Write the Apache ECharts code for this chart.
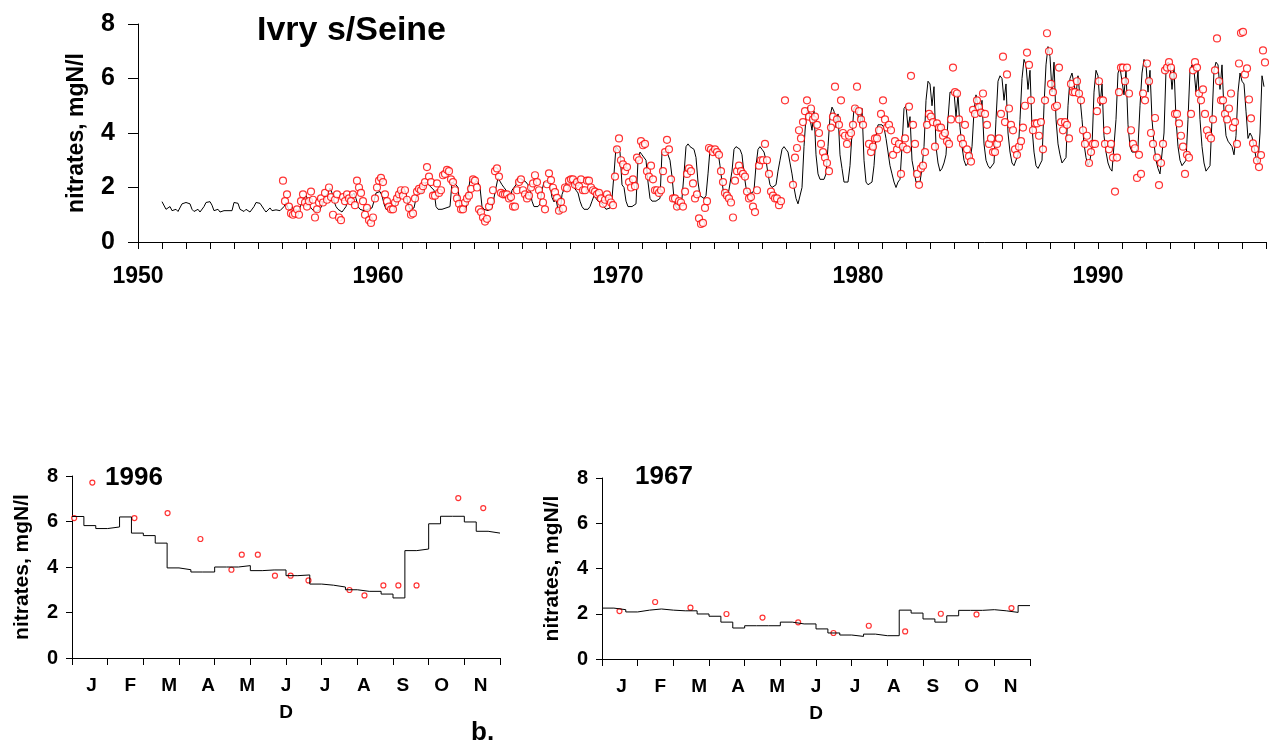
<!DOCTYPE html>
<html>
<head>
<meta charset="utf-8">
<script src="https://cdn.jsdelivr.net/npm/echarts@6/dist/echarts.min.js"></script>
<style>
  html, body { margin: 0; padding: 0; background: #fff; }
  #chart { width: 1269px; height: 744px; }
</style>
</head>
<body>
<div id="chart"></div>
<script>
// simulated nitrate, one value per month, Jan 1951 .. Dec 1996
const modelStartYear = 1951
const modelMonthly = [
  1.48,1.45,1.2,1.15,1.3,1.15,1.15,1.2,1.12,1.15,1.4,1.45,
  1.45,1.48,1.4,1.2,1.12,1.15,1.2,1.1,1.12,1.3,1.45,1.45,
  1.48,1.35,1.15,1.1,1.2,1.1,1.15,1.15,1.12,1.15,1.18,1.15,
  1.45,1.48,1.42,1.2,1.15,1.12,1.2,1.15,1.1,1.15,1.3,1.45,
  1.5,1.42,1.35,1.2,1.1,1.15,1.25,1.15,1.1,1.18,1.25,1.15,
  1.2,1.3,1.45,1.25,1.15,1.3,1.15,1.2,1.1,1.15,1.45,1.6,
  1.7,1.55,1.3,1.2,1.15,1.1,1.15,1.2,1.25,1.5,1.7,1.8,
  1.98,1.8,1.5,1.3,1.2,1.15,1.1,1.2,1.3,1.6,1.8,1.7,
  1.8,1.6,1.3,1.2,1.2,1.15,1.15,1.2,1.2,1.25,1.5,1.8,
  1.85,1.85,1.7,1.4,1.2,1.15,1.15,1.15,1.2,1.15,1.7,1.9,
  1.9,1.95,1.8,1.4,1.2,1.2,1.25,1.6,1.85,1.85,1.8,1.95,
  2.2,2.2,2.05,2.0,1.9,1.3,1.2,1.2,1.2,1.2,1.25,1.3,
  1.3,2.2,2.2,2.1,2.0,1.3,1.2,1.2,1.2,1.2,2.3,2.35,
  2.3,2.3,2.2,2.0,1.3,1.2,1.2,1.15,1.2,1.25,1.3,2.0,
  2.35,2.3,2.1,2.0,1.9,1.6,1.5,1.9,2.0,2.1,2.35,2.4,
  2.3,2.3,2.2,2.1,1.9,1.5,1.3,1.3,1.3,1.4,1.9,2.2,
  2.17,2.18,2.08,1.63,1.47,1.58,1.18,1.04,1.74,1.77,2.16,2.18,
  2.3,2.2,2.0,1.9,1.8,1.5,1.3,1.2,1.15,1.2,1.3,1.5,
  1.7,1.6,1.5,1.5,1.4,1.3,1.2,1.2,1.25,1.6,2.5,3.5,
  3.5,3.3,2.1,2.0,1.5,1.3,1.3,1.3,1.35,1.4,3.0,3.3,
  3.2,3.2,3.0,2.2,1.6,1.5,1.5,1.5,1.5,1.6,3.3,3.35,
  3.3,3.2,3.0,2.4,1.6,1.3,1.2,1.4,1.6,2.5,3.5,3.6,
  3.5,3.5,3.4,3.1,2.2,1.7,1.7,1.6,1.7,2.5,3.4,3.5,
  3.5,3.4,3.3,2.8,2.2,1.7,1.7,1.7,1.7,2.6,3.4,3.5,
  3.5,3.4,3.2,2.5,2.0,1.8,1.8,1.8,1.9,2.8,3.4,3.5,
  3.4,3.3,3.0,2.5,2.1,2.0,2.0,2.1,2.6,3.0,3.4,3.5,
  3.4,3.3,2.9,2.5,2.0,1.6,1.4,1.4,2.0,3.5,4.6,4.95,
  4.9,4.1,4.8,3.2,2.5,2.3,2.3,2.3,2.5,3.5,4.6,4.95,
  4.8,4.2,4.7,3.2,2.7,2.2,2.15,2.2,2.8,4.0,4.9,5.0,
  5.0,4.3,4.9,3.0,2.2,2.1,2.1,2.2,2.8,3.9,4.3,4.3,
  4.3,4.2,3.8,3.3,2.8,2.5,2.2,2.0,2.2,2.3,3.5,4.9,
  5.0,4.2,4.6,3.0,2.6,2.2,2.15,2.2,2.7,3.5,5.2,5.9,
  5.8,5.0,5.7,3.5,2.9,2.6,2.7,2.9,3.2,4.5,5.5,5.5,
  5.5,4.6,5.4,4.2,3.5,3.0,2.8,2.8,3.0,3.5,4.8,5.4,
  5.4,4.6,5.2,3.6,3.0,2.8,2.7,2.7,2.9,4.5,5.9,6.1,
  6.0,5.2,5.8,4.0,3.3,2.9,2.8,2.8,3.2,4.5,6.0,6.7,
  6.5,5.6,6.3,4.2,3.3,2.8,2.7,2.7,3.0,5.0,6.5,7.17,
  6.8,5.5,6.6,4.5,3.6,3.2,2.9,2.9,3.1,5.0,6.0,6.2,
  6.2,5.4,6.1,5.3,4.5,3.6,3.1,2.8,3.0,3.5,5.5,6.3,
  6.1,5.0,5.8,3.9,3.3,2.9,2.7,2.6,2.6,4.5,6.2,6.4,
  6.4,5.4,6.3,4.3,3.5,3.3,3.25,3.3,3.5,5.0,6.2,6.7,
  6.5,5.5,6.3,4.5,3.6,3.0,2.7,2.5,2.5,4.0,6.3,6.6,
  6.5,5.6,6.4,4.5,3.5,3.0,2.8,2.8,3.0,4.5,6.3,6.5,
  6.3,5.5,6.3,4.5,3.5,2.9,2.6,2.6,2.8,4.5,6.3,6.6,
  6.5,5.6,6.5,4.8,3.9,3.7,3.7,3.5,3.2,3.9,5.5,6.2,
  5.9,5.8,4.8,3.8,4.0,3.86,3.5,3.1,2.9,4.0,6.1,5.7
]

// measured nitrate, one slot per month (mid-month), Jan 1956 .. Dec 1996
const obsStartYear = 1956
const obsMonthly = [
  2.25,1.5,1.75,1.3,1.05,1.0,1.05,1.2,1.0,1.5,1.75,1.45,
  1.3,1.5,1.85,1.55,0.9,1.2,1.45,1.6,1.45,1.8,1.55,2.0,
  1.65,1.0,1.55,1.75,0.9,0.8,1.65,1.5,1.75,1.6,1.5,1.75,
  1.35,2.25,2.0,1.8,1.5,1.0,1.25,0.8,0.7,0.9,1.6,2.0,
  2.25,2.35,2.2,1.75,1.5,1.3,1.2,1.2,1.45,1.6,1.75,1.9,
  1.7,1.9,1.55,1.25,1.0,1.05,1.6,1.85,1.95,1.9,2.05,2.2,
  2.75,2.4,2.2,1.7,1.7,2.15,1.8,1.9,2.45,2.5,2.65,2.6,
  2.3,2.2,1.9,1.6,1.4,1.2,1.2,1.45,1.6,1.7,1.95,2.3,
  2.25,2.0,1.2,1.1,0.9,0.75,0.85,1.3,1.5,1.9,2.6,2.7,
  2.4,1.8,1.75,1.75,1.75,1.6,1.65,1.3,1.3,1.9,2.2,2.3,
  1.9,1.75,1.6,1.7,2.0,2.15,2.45,2.2,1.9,1.7,1.45,1.2,
  2.12,2.52,2.27,1.99,1.83,1.62,1.15,1.47,1.22,2.0,1.97,2.25,
  2.3,2.3,2.1,2.2,2.05,2.3,1.9,1.9,2.25,2.25,2.0,1.9,
  1.85,1.75,1.8,1.6,1.4,1.55,1.75,1.6,1.45,1.35,2.4,3.4,
  3.8,3.0,2.85,2.6,2.75,2.2,2.0,2.3,2.05,3.1,3.0,3.7,
  3.55,3.6,2.6,2.4,2.8,2.3,1.9,1.9,1.8,1.9,2.6,3.3,
  3.75,3.4,2.3,1.6,1.6,1.3,1.5,1.45,1.3,1.85,2.5,2.7,
  2.6,2.15,1.6,1.75,0.87,0.66,0.7,1.25,1.5,3.45,3.4,3.3,
  3.4,3.3,3.2,2.6,2.2,1.8,1.7,1.6,1.45,0.9,2.25,2.6,
  2.8,2.6,2.5,2.4,1.85,1.6,1.65,1.3,1.1,1.9,2.8,3.0,
  3.0,3.6,3.0,2.5,1.85,1.7,1.6,1.6,1.35,1.5,null,5.2,
  null,null,null,2.1,3.1,3.45,4.1,3.8,4.4,4.8,5.2,4.6,
  4.9,4.5,4.6,4.3,4.0,3.6,3.3,3.1,2.9,2.6,4.2,4.6,
  5.7,4.5,4.3,5.2,4.0,3.9,3.6,3.9,4.0,4.3,4.9,5.7,
  4.8,4.5,4.3,null,null,3.6,3.3,3.5,3.8,3.8,4.1,4.7,
  5.2,4.5,4.2,4.3,4.1,3.2,3.7,3.4,3.6,2.5,3.5,3.8,
  3.4,4.97,6.1,4.3,3.6,2.5,2.1,2.7,2.8,3.3,4.3,4.7,
  4.6,4.4,3.5,4.35,4.2,4.2,3.9,4.0,3.7,3.6,4.5,6.4,
  5.5,5.45,4.5,3.8,3.6,4.3,3.4,3.15,2.95,4.85,4.7,5.2,
  4.95,4.75,5.45,4.7,4.3,3.6,3.8,3.3,3.3,3.6,3.8,4.7,
  6.8,4.4,6.15,4.9,4.3,4.1,3.4,3.2,3.5,3.7,4.2,5.0,
  6.95,6.5,5.2,4.1,4.35,4.35,3.9,4.4,3.4,5.2,7.66,7.0,
  5.8,5.5,4.95,5.0,6.4,4.4,4.1,4.4,4.3,3.8,5.8,5.5,
  5.5,5.9,5.45,5.2,4.1,3.6,3.9,2.9,3.3,3.6,3.6,4.8,
  5.9,5.2,5.2,3.6,4.1,3.4,3.6,3.1,1.85,3.1,5.5,6.4,
  6.4,5.9,6.4,5.45,4.1,3.6,3.44,2.35,3.2,2.5,5.45,5.2,
  6.55,5.9,4.0,3.6,4.55,3.1,2.09,2.9,3.6,6.3,6.4,6.6,
  6.4,6.1,4.7,4.7,4.35,3.9,3.5,2.5,3.2,3.1,4.7,6.3,
  6.6,6.4,5.45,5.2,5.6,4.7,4.1,3.9,3.8,4.5,6.3,7.47,
  5.9,5.2,5.2,4.7,4.5,4.9,5.45,4.2,4.4,3.6,6.55,7.67,
  7.71,6.15,6.37,5.23,4.54,3.62,3.41,2.99,2.75,3.19,7.03,6.59
]

// month letters under the small panels
const panelMonths = ['J', 'F', 'M', 'A', 'M', 'J', 'J', 'A', 'S', 'O', 'N']

// 1996, ten-day model values (36 per year)
const model1996 = [
  6.22,5.82,5.69, 5.76,6.2,5.49, 5.38,5.05,3.96, 3.88,3.78,3.78,
  4.0,4.0,4.06, 3.84,3.87,3.87, 3.62,3.65,3.25, 3.2,3.12,3.0,
  2.93,2.93,2.81, 2.64,4.72,4.79, 5.9,6.23,6.23, 5.98,5.57,5.49
]
const obs1996Month = [0.06,0.57,1.75,2.68,3.6,4.47,4.76,5.21,5.69,6.13,6.63,7.78,8.2,8.73,9.15,9.66,10.83,11.53]
const obs1996Value = [6.15,7.71,6.15,6.37,5.23,3.88,4.54,4.54,3.62,3.62,3.41,2.99,2.75,3.19,3.19,3.19,7.03,6.59]

// 1967, ten-day model values
const model1967 = [
  2.25,2.18,2.08, 2.16,2.21,2.16, 2.13,2.13,1.99, 1.89,1.63,1.37,
  1.47,1.47,1.47, 1.63,1.55,1.55, 1.33,1.15,1.06, 1.0,1.1,1.03,
  1.03,2.16,2.03, 1.77,1.63,1.91, 2.15,2.15,2.18, 2.13,2.06,2.36
]
const obs1967Month = [0.49,1.49,2.48,3.49,4.5,5.5,6.49,7.48,8.5,9.5,10.5,11.48]
const obs1967Value = [2.12,2.52,2.27,1.99,1.83,1.62,1.15,1.47,1.22,2.0,1.97,2.25]

const FONT = '"Liberation Sans", Arial, sans-serif'

function monthlyPoints(start, values, offset) {
  const pts = []
  values.forEach((v, i) => {
    if (v !== null) pts.push([start + (i + offset) / 12, v])
  })
  return pts
}

function dekadPoints(values) {
  const pts = values.map((v, i) => [i / 3, v])
  pts.push([12, values[values.length - 1]])
  return pts
}

function pairs(xs, ys) {
  return xs.map((x, i) => [x, ys[i]])
}

const redCircle = {
  color: '#ffffff',
  borderColor: '#ff0000',
  borderWidth: 1.2
}

function boldText(size) {
  return { fontFamily: FONT, fontWeight: 'bold', fontSize: size, color: '#000' }
}

function panelYAxis(gridIndex) {
  return {
    type: 'value',
    gridIndex,
    min: 0,
    max: 8,
    interval: 2,
    name: 'nitrates, mgN/l',
    nameLocation: 'middle',
    nameGap: 39,
    nameTextStyle: boldText(21),
    axisLine: { show: true, lineStyle: { color: '#000', width: 1 } },
    axisTick: { show: true, length: 6, lineStyle: { color: '#000' } },
    axisLabel: { ...boldText(20), margin: 14 },
    splitLine: { show: false }
  }
}

function panelXAxes(gridIndex) {
  return [
    {
      type: 'value',
      gridIndex,
      min: 0,
      max: 12,
      interval: 1,
      name: 'D',
      nameLocation: 'middle',
      nameGap: 45,
      nameTextStyle: boldText(19),
      axisLine: { show: true, onZero: false, lineStyle: { color: '#000', width: 1 } },
      axisTick: { show: true, length: 7, lineStyle: { color: '#000' } },
      axisLabel: { show: false },
      splitLine: { show: false }
    },
    {
      type: 'category',
      gridIndex,
      position: 'bottom',
      data: panelMonths,
      boundaryGap: true,
      axisLine: { show: false },
      axisTick: { show: false },
      axisLabel: { ...boldText(19), margin: 18, interval: 0 },
      splitLine: { show: false }
    }
  ]
}

const chart = echarts.init(document.getElementById('chart'))

chart.setOption({
  animation: false,
  backgroundColor: '#fff',
  title: [
    { text: 'Ivry s/Seine', left: 257, top: 14, padding: 0, textStyle: boldText(34) },
    { text: '1996', left: 105, top: 465, padding: 0, textStyle: boldText(26) },
    { text: '1967', left: 635, top: 464, padding: 0, textStyle: boldText(26) },
    { text: 'b.', left: 471, top: 720, padding: 0, textStyle: boldText(26) }
  ],
  grid: [
    { left: 138, right: -2, top: 24, bottom: 502 },
    { left: 72, right: 769, top: 476, bottom: 86 },
    { left: 602, right: 239, top: 478, bottom: 85 }
  ],
  xAxis: [
    {
      type: 'value',
      gridIndex: 0,
      min: 1950,
      max: 1997,
      interval: 1,
      axisLine: { show: true, onZero: false, lineStyle: { color: '#000', width: 1 } },
      axisTick: { show: true, length: 7, lineStyle: { color: '#000' } },
      axisLabel: {
        ...boldText(23),
        margin: 23,
        formatter: v => (v % 10 === 0 ? String(v) : '')
      },
      splitLine: { show: false }
    },
    ...panelXAxes(1),
    ...panelXAxes(2)
  ],
  yAxis: [
    {
      type: 'value',
      gridIndex: 0,
      min: 0,
      max: 8,
      interval: 2,
      name: 'nitrates, mgN/l',
      nameLocation: 'middle',
      nameGap: 50,
      nameTextStyle: boldText(23),
      axisLine: { show: true, lineStyle: { color: '#000', width: 1 } },
      axisTick: { show: true, length: 10, lineStyle: { color: '#000' } },
      axisLabel: { ...boldText(25), margin: 23 },
      splitLine: { show: false }
    },
    panelYAxis(1),
    panelYAxis(2)
  ],
  series: [
    {
      type: 'line',
      xAxisIndex: 0,
      yAxisIndex: 0,
      data: monthlyPoints(modelStartYear, modelMonthly, 0),
      showSymbol: false,
      lineStyle: { color: '#000', width: 1 },
      z: 2
    },
    {
      type: 'scatter',
      xAxisIndex: 0,
      yAxisIndex: 0,
      data: monthlyPoints(obsStartYear, obsMonthly, 0.5),
      symbol: 'circle',
      symbolSize: 7,
      itemStyle: redCircle,
      z: 3
    },
    {
      type: 'line',
      xAxisIndex: 1,
      yAxisIndex: 1,
      data: dekadPoints(model1996),
      step: 'end',
      showSymbol: false,
      lineStyle: { color: '#000', width: 1 }
    },
    {
      type: 'scatter',
      xAxisIndex: 1,
      yAxisIndex: 1,
      data: pairs(obs1996Month, obs1996Value),
      symbol: 'circle',
      symbolSize: 5,
      itemStyle: redCircle
    },
    {
      type: 'line',
      xAxisIndex: 3,
      yAxisIndex: 2,
      data: dekadPoints(model1967),
      step: 'end',
      showSymbol: false,
      lineStyle: { color: '#000', width: 1 }
    },
    {
      type: 'scatter',
      xAxisIndex: 3,
      yAxisIndex: 2,
      data: pairs(obs1967Month, obs1967Value),
      symbol: 'circle',
      symbolSize: 5,
      itemStyle: redCircle
    }
  ]
})
</script>
</body>
</html>
